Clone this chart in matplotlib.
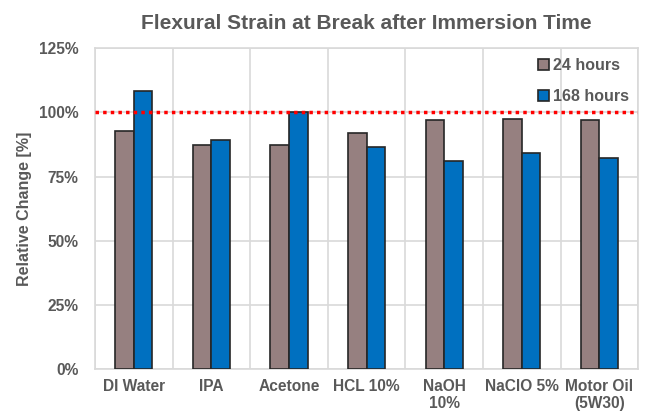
import numpy as np
import matplotlib.pyplot as plt
from matplotlib.ticker import FuncFormatter

plt.rcParams['font.family'] = ['Liberation Sans', 'DejaVu Sans']

categories = ['DI Water', 'IPA', 'Acetone', 'HCL 10%', 'NaOH\n10%', 'NaClO 5%', 'Motor Oil\n(5W30)']
h24 = [92.7, 87.1, 87.4, 92.0, 97.0, 97.3, 97.0]
h168 = [108.4, 89.4, 100.3, 86.5, 81.2, 84.2, 82.2]

grey = '#595959'
fig = plt.figure(figsize=(6.46, 4.19), dpi=100)
ax = fig.add_axes([0.147, 0.119, 0.841, 0.766])

x = np.arange(len(categories))
w = 0.24
ax.bar(x - w / 2, h24, w, color='#968080', edgecolor='#262626', linewidth=1.2, label='24 hours', zorder=3)
ax.bar(x + w / 2, h168, w, color='#0070C0', edgecolor='#262626', linewidth=1.2, label='168 hours', zorder=3)

ax.axhline(100, color='#FF0000', linestyle=(0, (1, 1.2)), linewidth=2.5, zorder=4)

ax.set_xlim(-0.5, len(categories) - 0.5)
ax.set_ylim(0, 125)
ax.set_yticks(np.arange(0, 126, 25))
ax.yaxis.set_major_formatter(FuncFormatter(lambda v, p: f'{v:.0f}%'))
ax.set_xticks(x)
ax.set_xticklabels(categories, linespacing=1.15)
ax.set_xticks(np.arange(-0.5, len(categories)), minor=True)
ax.grid(axis='y', color='#D9D9D9', linewidth=1.2, zorder=0)
ax.grid(axis='x', which='minor', color='#D9D9D9', linewidth=1.2, zorder=0)
ax.tick_params(axis='both', which='both', length=0)
ax.tick_params(axis='x', pad=7)
ax.tick_params(axis='y', pad=12)
for lab in ax.get_xticklabels() + ax.get_yticklabels():
    lab.set_fontweight('bold')
    lab.set_color(grey)
    lab.set_fontsize(11.2)
for s in ax.spines.values():
    s.set_color('#D9D9D9')
    s.set_linewidth(1.2)

ax.set_ylabel('Relative Change [%]', fontsize=11.5, fontweight='bold', color=grey, labelpad=5)
ax.set_title('Flexural Strain at Break after Immersion Time', fontsize=15, fontweight='bold', color=grey, pad=14)

leg = ax.legend(loc='upper right', frameon=False, handlelength=0.7, handleheight=0.7,
                handletextpad=0.2, labelspacing=1.0, borderaxespad=0.2,
                prop={'weight': 'bold', 'size': 11.5})
for t in leg.get_texts():
    t.set_color(grey)

fig.savefig('out.png', dpi=100)
